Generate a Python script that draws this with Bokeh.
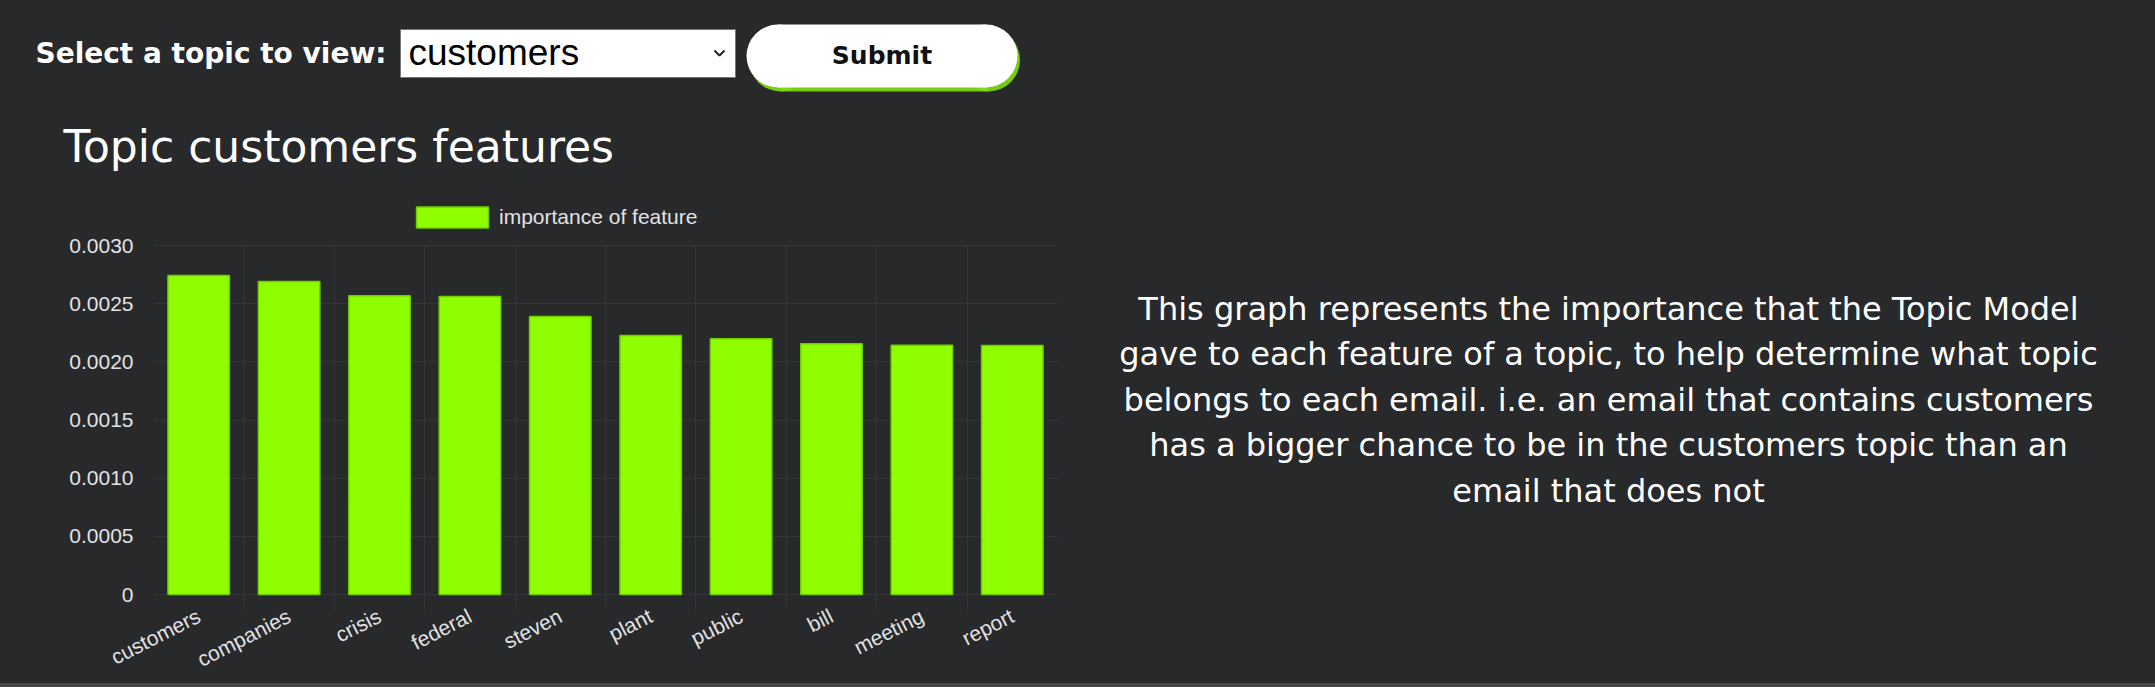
from bokeh.plotting import figure
from bokeh.models import Range1d, FactorRange, FixedTicker, Legend, BoxAnnotation
from bokeh.layouts import column, row
from bokeh.embed import file_html
from bokeh.resources import INLINE
from bokeh.core.properties import value

# ---------------- data ----------------
features = ["customers", "companies", "crisis", "federal", "steven",
            "plant", "public", "bill", "meeting", "report"]
importance = [0.002742, 0.002691, 0.002568, 0.002562, 0.002390,
              0.002226, 0.002198, 0.002155, 0.002143, 0.002140]
y_ticks = [0, 0.0005, 0.001, 0.0015, 0.002, 0.0025, 0.003]
y_tick_labels = ["0", "0.0005", "0.0010", "0.0015", "0.0020", "0.0025", "0.0030"]
series_name = "importance of feature"
selected_topic = "customers"
prompt_text = "Select a topic to view:"
button_text = "Submit"
title_text = "Topic customers features"
description_lines = [
    "This graph represents the importance that the Topic Model",
    "gave to each feature of a topic, to help determine what topic",
    "belongs to each email. i.e. an email that contains customers",
    "has a bigger chance to be in the customers topic than an",
    "email that does not",
]

# ---------------- style ----------------
BG = "#28292b"
GRID = "#333538"
BAR = "#8fff00"
BAR_EDGE = "#72cc00"
TICK = "#e2e2e2"
UI_FONT = "DejaVu Sans"
CHART_FONT = "Liberation Sans"
BG_STYLE = {"background-color": BG}

W = 2155
H = 683                    # main area; a thin footer strip follows
HEAD_B = 185               # bottom of header band (page px)
SPLIT = 1100               # x where chart ends / description starts
FRAME_L, FRAME_R, FRAME_B = 153, 1057, 609
FRAME_T = 200              # frame top (legend lives in the top band)
GRID_T = 245               # page y of the top value tick
ZERO_Y = 594               # page y of value 0
LEGEND_L = 407             # legend box left (swatch drawn inset 10%)


def canvas(x0, x1, y0, y1, top=0, bottom=0):
    f = figure(width=int(x1 - x0), height=int(y1 - y0),
               x_range=Range1d(x0, x1), y_range=Range1d(y1 - bottom, y0 + top),
               output_backend="svg", toolbar_location=None, min_border=0,
               min_border_top=top, min_border_bottom=bottom,
               x_axis_location=None, y_axis_location=None, styles=BG_STYLE)
    f.grid.visible = False
    f.background_fill_color = BG
    f.border_fill_color = BG
    f.outline_line_color = None
    return f


# ---------------- header ----------------
hdr = canvas(0, W, 0, HEAD_B)
hdr.text(x=[35], y=[53], text=[prompt_text], text_font=value(UI_FONT),
         text_font_style="bold", text_font_size="28px", text_color="white",
         text_align="left", text_baseline="middle")
# select box
hdr.quad(left=[400], right=[735], top=[29], bottom=[77], fill_color="white",
         line_color="#767676", line_width=1)
hdr.text(x=[408], y=[52], text=[selected_topic], text_font=value(CHART_FONT),
         text_font_size="37px", text_color="black", text_align="left",
         text_baseline="middle")
hdr.line(x=[714, 719, 724], y=[50, 55, 50], line_color="#222222", line_width=2)
# submit button (shadow + pill)
hdr.quad(left=[780], right=[988], top=[28], bottom=[91], fill_color="#7fdc12",
         line_color=None, fill_alpha=0.9)
hdr.circle(x=[780, 988], y=[59.5, 59.5], radius=31.5, fill_color="#7fdc12",
           line_color=None, fill_alpha=0.9)
hdr.quad(left=[777.5], right=[985.5], top=[24], bottom=[87], fill_color="white",
         line_color=None)
hdr.circle(x=[777.5, 985.5], y=[55.5, 55.5], radius=31.5, fill_color="white",
           line_color=None)
hdr.text(x=[881.5], y=[55], text=[button_text], text_font=value(UI_FONT),
         text_font_style="bold", text_font_size="25px", text_color="#111111",
         text_align="center", text_baseline="middle")
# chart title
hdr.text(x=[63], y=[146], text=[title_text], text_font=value(UI_FONT),
         text_font_size="44px", text_color="white", text_align="left",
         text_baseline="middle")

# ---------------- chart ----------------
y0 = 0.0
y1 = y_ticks[-1]
px_per_unit = (ZERO_Y - GRID_T) / (y1 - y0)
ch = figure(width=SPLIT, height=H - HEAD_B,
            x_range=FactorRange(factors=features, range_padding=0, factor_padding=0),
            y_range=Range1d(y0 - (FRAME_B - ZERO_Y) / px_per_unit,
                            y1 + (GRID_T - FRAME_T) / px_per_unit),
            output_backend="svg", toolbar_location=None,
            min_border_left=FRAME_L, min_border_right=SPLIT - FRAME_R,
            min_border_top=FRAME_T - HEAD_B, min_border_bottom=H - FRAME_B,
            styles=BG_STYLE)
ch.background_fill_color = BG
ch.border_fill_color = BG
ch.outline_line_color = None

bars = ch.vbar(x=features, top=importance, bottom=0, width=0.68, fill_color=BAR,
               line_color=BAR_EDGE, line_width=1.5)

ch.ygrid.ticker = FixedTicker(ticks=y_ticks)
ch.ygrid.grid_line_color = GRID
ch.xgrid.ticker = FixedTicker(ticks=list(range(len(features) + 1)))
ch.xgrid.grid_line_color = GRID

# mask the vertical grid lines above the top tick (legend band)
ch.add_layout(BoxAnnotation(bottom=y1 + 1.0 / px_per_unit, fill_color=BG,
                            fill_alpha=1.0, line_color=None, level="underlay"))

ch.yaxis.ticker = FixedTicker(ticks=y_ticks)
ch.yaxis.major_label_overrides = dict(zip(y_ticks, y_tick_labels))
for ax in (ch.xaxis, ch.yaxis):
    ax.axis_line_color = None
    ax.major_tick_line_color = None
    ax.minor_tick_line_color = None
    ax.major_tick_out = 0
    ax.major_tick_in = 0
    ax.major_label_text_font = CHART_FONT
    ax.major_label_text_font_size = "21px"
    ax.major_label_text_color = TICK
ch.yaxis.major_label_standoff = 20
ch.xaxis.major_label_standoff = 5
ch.xaxis.major_label_orientation = 0.47

# legend centred over the frame; label area widened so swatch sits at LEGEND_L
glyph_w, glyph_h, standoff = 90, 26, 2
legend_w = 2 * ((FRAME_L + FRAME_R) / 2 - LEGEND_L)
lg = Legend(items=[(series_name, [bars])], location="top_center",
            background_fill_alpha=0, border_line_alpha=0, padding=0,
            margin=4, glyph_width=glyph_w, glyph_height=glyph_h,
            label_height=glyph_h, label_standoff=standoff,
            label_width=int(legend_w - glyph_w - standoff),
            label_text_font=CHART_FONT, label_text_font_size="21px",
            label_text_color=TICK, label_text_baseline="middle")
ch.add_layout(lg)

# ---------------- description ----------------
desc = canvas(SPLIT, W, HEAD_B, H, top=FRAME_T - HEAD_B, bottom=H - FRAME_B)
desc.text(x=[1608] * len(description_lines),
          y=[308.5 + 45.4 * i for i in range(len(description_lines))],
          text=description_lines, text_font=value(UI_FONT),
          text_font_size="32px", text_color="white", text_align="center",
          text_baseline="middle")

# ---------------- footer strip ----------------
foot = canvas(0, W, 0, 4)
foot.background_fill_color = "#474747"
foot.border_fill_color = "#474747"
foot.styles = {"background-color": "#474747"}
foot.quad(left=[0], right=[W], top=[2.5], bottom=[4], fill_color="#1f1f1f",
          line_color=None)

layout = column(hdr, row(ch, desc, styles=BG_STYLE), foot, styles=BG_STYLE)
open("out.html", "w").write(file_html(layout, INLINE, title="Topic features"))
